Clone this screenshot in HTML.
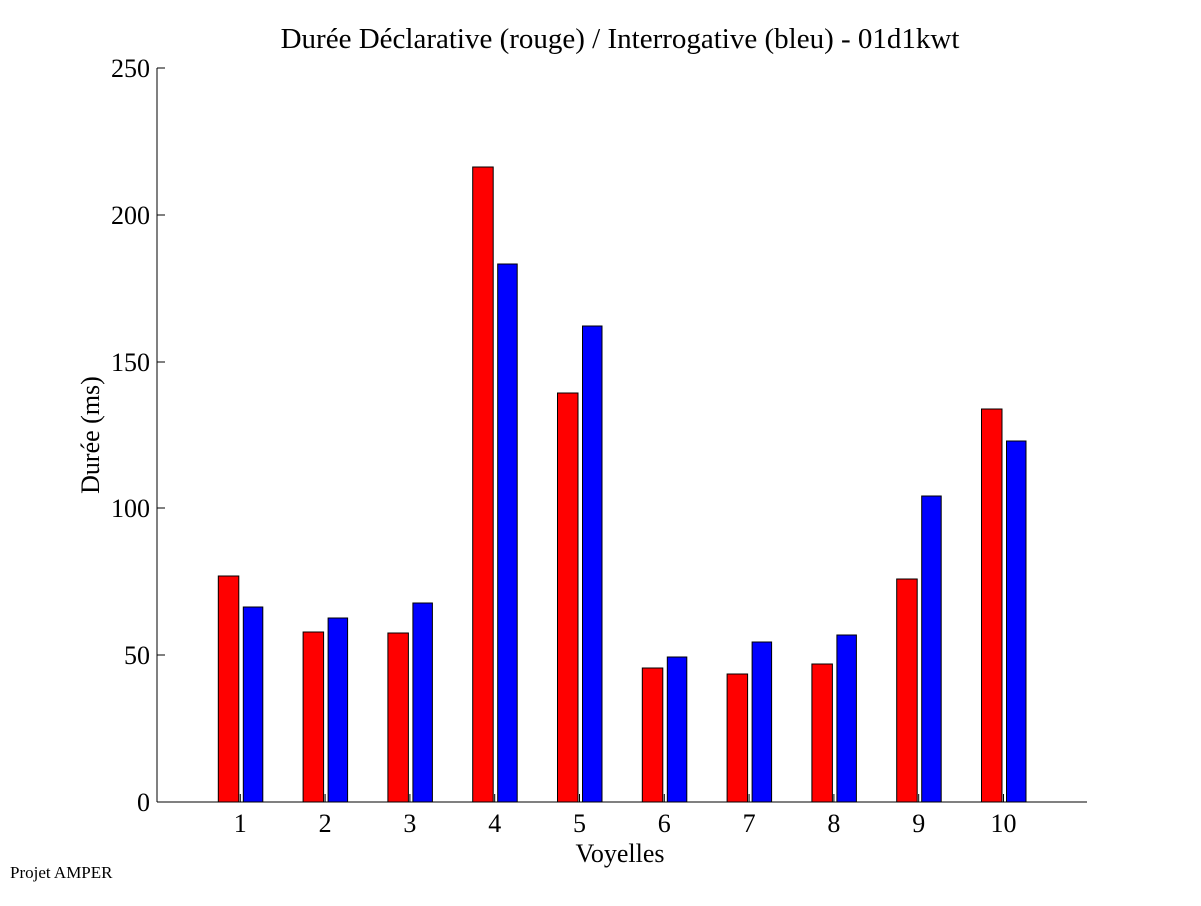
<!DOCTYPE html>
<html><head><meta charset="utf-8"><style>body{margin:0;background:#fff}</style></head><body>
<svg width="1201" height="901" xmlns="http://www.w3.org/2000/svg" font-family="Liberation Serif, serif">
<rect width="1201" height="901" fill="#fff"/>
<text x="620" y="48" font-size="29" text-anchor="middle">Durée Déclarative (rouge) / Interrogative (bleu) - 01d1kwt</text>
<g stroke="#000" stroke-width="1">
<line x1="157" y1="68" x2="157" y2="802"/>
<line x1="157" y1="802" x2="1087" y2="802"/>
<line x1="157" y1="68" x2="165" y2="68"/>
<line x1="157" y1="215" x2="165" y2="215"/>
<line x1="157" y1="362" x2="165" y2="362"/>
<line x1="157" y1="508" x2="165" y2="508"/>
<line x1="157" y1="655" x2="165" y2="655"/>
</g>
<g font-size="26" text-anchor="end">
<text x="150" y="77">250</text><text x="150" y="224">200</text><text x="150" y="371">150</text><text x="150" y="517">100</text><text x="150" y="664">50</text><text x="150" y="811">0</text>
</g>
<g stroke="#000" stroke-width="1">
<rect x="218.3" y="576" width="20.5" height="226" fill="#f00"/><rect x="243.3" y="607" width="19.5" height="195" fill="#00f"/>
<rect x="303.1" y="632" width="20.5" height="170" fill="#f00"/><rect x="328.1" y="618" width="19.5" height="184" fill="#00f"/>
<rect x="387.9" y="633" width="20.5" height="169" fill="#f00"/><rect x="412.9" y="603" width="19.5" height="199" fill="#00f"/>
<rect x="472.7" y="167" width="20.5" height="635" fill="#f00"/><rect x="497.7" y="264" width="19.5" height="538" fill="#00f"/>
<rect x="557.5" y="393" width="20.5" height="409" fill="#f00"/><rect x="582.5" y="326" width="19.5" height="476" fill="#00f"/>
<rect x="642.3" y="668" width="20.5" height="134" fill="#f00"/><rect x="667.3" y="657" width="19.5" height="145" fill="#00f"/>
<rect x="727.1" y="674" width="20.5" height="128" fill="#f00"/><rect x="752.1" y="642" width="19.5" height="160" fill="#00f"/>
<rect x="811.9" y="664" width="20.5" height="138" fill="#f00"/><rect x="836.9" y="635" width="19.5" height="167" fill="#00f"/>
<rect x="896.7" y="579" width="20.5" height="223" fill="#f00"/><rect x="921.7" y="496" width="19.5" height="306" fill="#00f"/>
<rect x="981.5" y="409" width="20.5" height="393" fill="#f00"/><rect x="1006.5" y="441" width="19.5" height="361" fill="#00f"/>
<path d="M240.3 802v-8M325.1 802v-8M409.9 802v-8M494.7 802v-8M579.5 802v-8M664.3 802v-8M749.1 802v-8M833.9 802v-8M918.7 802v-8M1003.5 802v-8"/>
</g>
<g font-size="26" text-anchor="middle">
<text x="240.3" y="832">1</text><text x="325.1" y="832">2</text><text x="409.9" y="832">3</text><text x="494.7" y="832">4</text><text x="579.5" y="832">5</text><text x="664.3" y="832">6</text><text x="749.1" y="832">7</text><text x="833.9" y="832">8</text><text x="918.7" y="832">9</text><text x="1003.5" y="832">10</text>
</g>
<text x="620" y="862" font-size="26" text-anchor="middle">Voyelles</text>
<text transform="translate(99,435) rotate(-90)" font-size="26" text-anchor="middle">Durée (ms)</text>
<text x="10" y="878" font-size="17">Projet AMPER</text>
</svg>
</body></html>
